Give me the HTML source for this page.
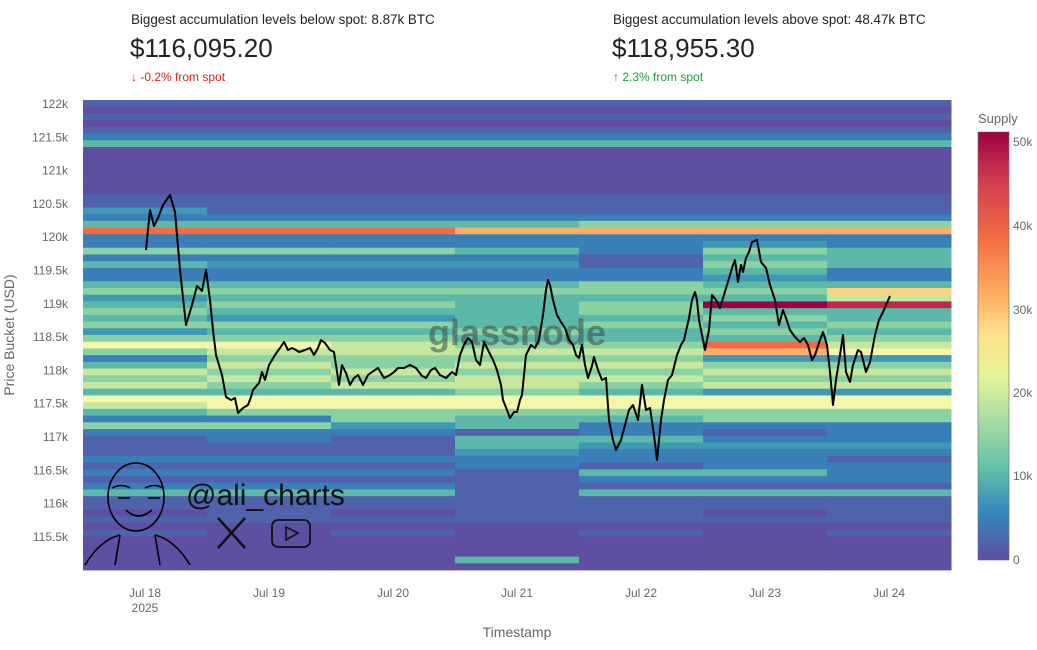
<!DOCTYPE html>
<html><head><meta charset="utf-8"><style>
body{margin:0;background:#fff;width:1037px;height:650px;overflow:hidden;font-family:"Liberation Sans",sans-serif;position:relative}
.t{position:absolute;white-space:nowrap}
</style></head><body>
<div class="t" style="left:131px;top:12px;font-size:13.4px;color:#222">Biggest accumulation levels below spot: 8.87k BTC</div>
<div class="t" style="left:130px;top:33px;font-size:26px;color:#222">$116,095.20</div>
<div class="t" style="left:131px;top:70px;font-size:12px;color:#e02020">↓ -0.2% from spot</div>
<div class="t" style="left:613px;top:12px;font-size:13.4px;color:#222">Biggest accumulation levels above spot: 48.47k BTC</div>
<div class="t" style="left:612px;top:33px;font-size:26px;color:#222">$118,955.30</div>
<div class="t" style="left:613px;top:70px;font-size:12px;color:#1a9a3a">↑ 2.3% from spot</div>
<svg id="s" width="1037" height="650" style="position:absolute;left:0;top:0" xmlns="http://www.w3.org/2000/svg">
<defs><linearGradient id="cb" x1="0" y1="0" x2="0" y2="1">
<stop offset="0" stop-color="#9e0142"/><stop offset="0.12" stop-color="#d53e4f"/><stop offset="0.25" stop-color="#f46d43"/><stop offset="0.38" stop-color="#fdae61"/><stop offset="0.47" stop-color="#fee08b"/><stop offset="0.57" stop-color="#e6f598"/><stop offset="0.67" stop-color="#abdda4"/><stop offset="0.78" stop-color="#66c2a5"/><stop offset="0.89" stop-color="#3288bd"/><stop offset="1" stop-color="#5e4fa2"/></linearGradient></defs>
<g id="hm"></g>
<text x="517" y="345" font-size="36" font-family="Liberation Sans" font-weight="bold" fill="#3a4a4a" fill-opacity="0.55" text-anchor="middle">glassnode</text>
<polyline id="pl" fill="none" stroke="#000" stroke-width="2" stroke-linejoin="round"/>
<g fill="none" stroke="#000" stroke-width="1.6">
<ellipse cx="136" cy="497" rx="28" ry="34"/>
<path d="M112 488 q10 -5 18 0 M145 488 q10 -5 18 0 M118 498 h12 M148 498 h12 M126 510 q12 12 26 0 M85 565 q15 -25 35 -30 M190 565 q-15 -25 -35 -30 M120 535 l-5 30 M155 535 l5 30"/>
</g>
<text x="186" y="505" font-size="30" font-family="Liberation Sans" fill="#111">@ali_charts</text>
<path d="M218 518 L245 548 M245 518 L218 548" stroke="#111" stroke-width="2.5"/>
<rect x="272" y="520" width="38" height="27" rx="6" fill="none" stroke="#111" stroke-width="1.8"/>
<path d="M286 527 L298 533 L286 540Z" fill="none" stroke="#111" stroke-width="1.6"/>
<rect x="978" y="132" width="31" height="428" fill="url(#cb)" stroke="#666" stroke-width="0.6"/>
<g font-size="12" fill="#666" font-family="Liberation Sans">
<text x="978" y="123" font-size="13">Supply</text>
<text x="1013" y="146">50k</text><text x="1013" y="230">40k</text><text x="1013" y="314">30k</text><text x="1013" y="397">20k</text><text x="1013" y="480">10k</text><text x="1013" y="564">0</text>
<g id="yl" text-anchor="end"></g>
<g text-anchor="middle">
<text x="145" y="597">Jul 18</text><text x="145" y="612">2025</text><text x="269" y="597">Jul 19</text><text x="393" y="597">Jul 20</text><text x="517" y="597">Jul 21</text><text x="641" y="597">Jul 22</text><text x="765" y="597">Jul 23</text><text x="889" y="597">Jul 24</text>
<text x="517" y="637" font-size="14">Timestamp</text>
<text transform="translate(14,335) rotate(-90)" font-size="14">Price Bucket (USD)</text>
</g></g>
</svg>
<script>
var C={'0':'#5e4fa2','1':'#4f62ab','2':'#3b7fb8','3':'#3f98b6','4':'#5cb8a8','5':'#8ad1a4','6':'#c6e89e','7':'#f3f6ab','8':'#fbb068','9':'#f26b45','x':'#9e0142','y':'#c2244b','o':'#fdd17e'};
var R=["1111111","0000000","1111111","0000000","1111111","2222222","4444444","0000000","0000000","0000000","0000000","0000000","0000000","0000000",
"1111111","1111111","3111111","2222222","4444555","9998888","2222222","2222232","5554254","2222144","4333154","2222242","2222232","4444544","555555o","3444446","45545xy",
"5444544","4334454","5554545","3445454","5554445","7765596","5666687","2555533","4656655","6565566","5656655","6566566","4445433","7777777","6777777","4555555","2254455","5534222","2221212","1214422","1114333","1113222","2222221","1112122","2221442","1111222","2221111","4441444","1111111","1111111","0101101","1111111","0000000","1010101","0000000","0000000","0000000","0004000","0000000"];
var h=470/R.length,s='';
R.forEach(function(r,i){for(var c=0;c<7;c++)s+='<rect x="'+(83+c*124)+'" y="'+(100+i*h).toFixed(2)+'" width="124.5" height="'+(h+0.4).toFixed(2)+'" fill="'+C[r[c]]+'"/>';});
document.getElementById('hm').innerHTML=s;
var y='';for(var k=0;k<14;k++){var v=122-k*0.5;y+='<text x="68" y="'+(108+k*33.3).toFixed(1)+'">'+(v%1?v.toFixed(1):v)+'k</text>';}
document.getElementById('yl').innerHTML=y;
document.getElementById('pl').setAttribute('points',"146,250 150,210 154,226 158,218 163,205 170,195 175,212 180,270 186,325 192,305 197,286 202,291 206,270 210,300 213,330 216,355 222,375 226,397 231,400 235,398 238,413 243,408 248,405 251,397 253,390 259,383 262,372 265,380 269,365 275,355 280,348 284,342 288,350 292,348 296,350 299,352 305,350 310,348 314,355 318,348 321,340 325,343 330,350 334,352 339,385 342,365 346,373 350,385 354,378 358,375 363,385 368,375 372,372 378,368 384,378 390,375 394,372 398,368 404,368 410,365 416,368 422,376 426,378 431,370 435,368 440,375 446,378 452,372 456,375 460,355 464,345 468,338 472,342 476,360 480,365 484,342 488,350 493,360 497,370 501,385 503,400 507,410 510,418 514,412 517,412 520,400 522,395 526,355 531,345 535,348 539,340 543,315 546,290 548,280 550,285 553,300 557,315 561,322 565,328 569,340 573,345 576,355 579,358 582,345 585,365 588,378 592,366 594,357 598,370 602,380 606,378 609,420 613,440 616,450 621,440 625,425 629,410 633,405 638,420 642,385 646,410 650,408 654,435 657,460 661,420 664,400 668,380 672,375 677,355 681,345 684,340 689,318 692,300 695,292 697,300 699,320 705,350 709,330 712,295 716,300 720,308 727,285 733,265 735,260 738,282 741,265 743,272 746,258 749,252 752,242 757,240 761,262 766,268 770,285 775,300 779,325 783,310 786,318 790,330 795,337 800,342 804,338 808,345 812,360 815,355 820,340 823,332 827,345 830,372 833,405 836,380 840,355 843,335 846,372 850,382 853,365 858,350 861,352 866,372 870,362 875,335 879,320 883,312 890,296");
</script>
</body></html>
